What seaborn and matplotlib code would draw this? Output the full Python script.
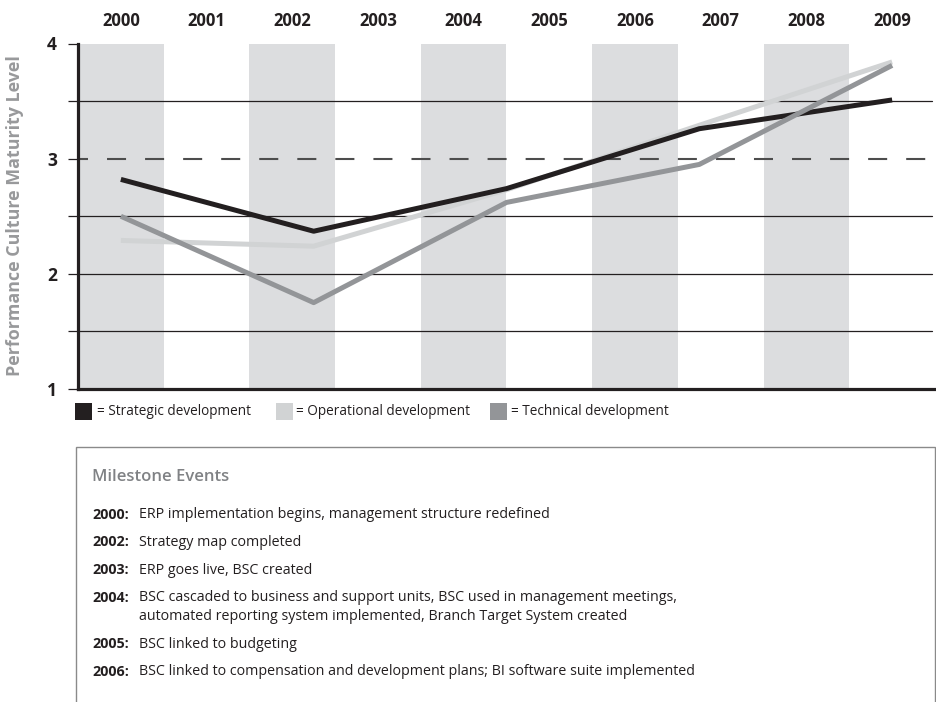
"""
Performance culture maturity by year, with milestone events box
"""
import matplotlib
matplotlib.use("Agg")

import pandas as pd
import matplotlib.pyplot as plt
import seaborn as sns
from matplotlib.patches import Rectangle

# --- data ------------------------------------------------------------------
years = [2000, 2001, 2002, 2003, 2004, 2005, 2006, 2007, 2008, 2009]
shaded_years = [2000, 2002, 2004, 2006, 2008]
point_years = [2000, 2002.25, 2004.5, 2006.75, 2009]

strategic = [2.82, 2.37, 2.74, 3.26, 3.51]
operational = [2.29, 2.24, 2.73, 3.29, 3.84]
technical = [2.50, 1.75, 2.62, 2.95, 3.81]

series_names = ["Strategic development", "Operational development", "Technical development"]
series_colors = ["#231f20", "#d1d3d4", "#939598"]

y_ticks = [1, 2, 3, 4]
grid_levels = [1.5, 2, 2.5, 3.5]
target_level = 3

milestone_years = ["2000:", "2002:", "2003:", "2004:", "2005:", "2006:"]
milestone_texts = [
    "ERP implementation begins, management structure redefined",
    "Strategy map completed",
    "ERP goes live, BSC created",
    "BSC cascaded to business and support units, BSC used in management meetings,\n"
    "automated reporting system implemented, Branch Target System created",
    "BSC linked to budgeting",
    "BSC linked to compensation and development plans; BI software suite implemented",
]

# --- style ------------------------------------------------------------------
sns.set_theme(style="white")
plt.rcParams["font.family"] = ["Open Sans", "DejaVu Sans"]
plt.rcParams["lines.scale_dashes"] = False

TEXT_DARK = "#231f20"
BAND = "#dcdddf"

W, H = 937, 702
fig = plt.figure(figsize=(W / 100, H / 100), dpi=100)
fig.patch.set_facecolor("white")


def fx(px):
    return px / W


def fy(py):
    return 1 - py / H


ax = fig.add_axes([fx(78), fy(389), fx(935) - fx(78), fy(43.5) - fy(389)])

# shaded alternate years
for yr in shaded_years:
    ax.axvspan(yr - 0.5, yr + 0.5, color=BAND, lw=0, zorder=0)

# reference lines
for lvl in grid_levels:
    ax.axhline(lvl, xmax=0.996, color=TEXT_DARK, lw=0.9, zorder=1)
ax.axhline(target_level, xmax=0.996, color="#4d4d4d", lw=1.5,
           linestyle=(6.5, (13.7, 13.7)), zorder=1)

# the three development series
frames = []
for name, vals in zip(series_names, [strategic, operational, technical]):
    frames.append(pd.DataFrame({"year": point_years, "level": vals, "series": name}))
df = pd.concat(frames, ignore_index=True)

draw_order = ["Operational development", "Strategic development", "Technical development"]
palette = dict(zip(series_names, series_colors))
sns.lineplot(data=df, x="year", y="level", hue="series", hue_order=draw_order,
             palette=palette, linewidth=3.6, legend=False, sort=False, ax=ax,
             solid_capstyle="butt", zorder=3)

ax.set_xlim(1999.5, 2009.5)
ax.set_ylim(1, 4)
ax.set_xlabel("")
ax.set_ylabel("")

ax.xaxis.tick_top()
ax.set_xticks(years)
ax.set_xticklabels([str(y) for y in years], fontsize=12, fontweight="bold", color=TEXT_DARK)
ax.tick_params(axis="x", length=0, pad=10)

ax.set_yticks(y_ticks)
ax.set_yticks([1.5, 2.5, 3.5], minor=True)
ax.set_yticklabels([str(t) for t in y_ticks], fontsize=12.5, fontweight="bold", color=TEXT_DARK)
ax.tick_params(axis="y", which="both", direction="out", length=7.2, width=0.9,
               color=TEXT_DARK, left=True, pad=8)

for side in ["top", "right"]:
    ax.spines[side].set_visible(False)
for side in ["left", "bottom"]:
    ax.spines[side].set_color(TEXT_DARK)
    ax.spines[side].set_linewidth(2.3)
    ax.spines[side].set_zorder(5)

fig.text(fx(15), fy(216), "Performance Culture Maturity Level", rotation=90,
         ha="center", va="center", fontsize=12.9, fontweight="bold", color="#98999b")

# legend row
legend_boxes = [75, 276, 490]
legend_texts = [97, 296, 511]
for name, color, bx, tx in zip(series_names, series_colors, legend_boxes, legend_texts):
    fig.patches.append(Rectangle((fx(bx), fy(420)), fx(17), 17 / H, transform=fig.transFigure,
                                 facecolor=color, edgecolor="none"))
    fig.text(fx(tx), fy(411.5), "= " + name, ha="left", va="center", fontsize=9.8,
             color=TEXT_DARK)

# milestone box
fig.patches.append(Rectangle((fx(76), fy(720)), fx(935) - fx(76), (720 - 447) / H,
                             transform=fig.transFigure, facecolor="none",
                             edgecolor="#8a8a8a", lw=1.0))
fig.text(fx(92), fy(477), "Milestone Events", ha="left", va="center", fontsize=12,
         fontweight="semibold", color="#808285")

row_y = 515
for label, text in zip(milestone_years, milestone_texts):
    lines = text.split("\n")
    fig.text(fx(92), fy(row_y), label, ha="left", va="center", fontsize=10.3,
             fontweight="bold", color=TEXT_DARK)
    for i, line in enumerate(lines):
        fig.text(fx(139), fy(row_y + 19 * i), line, ha="left", va="center",
                 fontsize=10.3, color=TEXT_DARK)
    row_y += 19 * (len(lines) - 1) + 27.5

fig.savefig("out.png", dpi=100, facecolor="white")
